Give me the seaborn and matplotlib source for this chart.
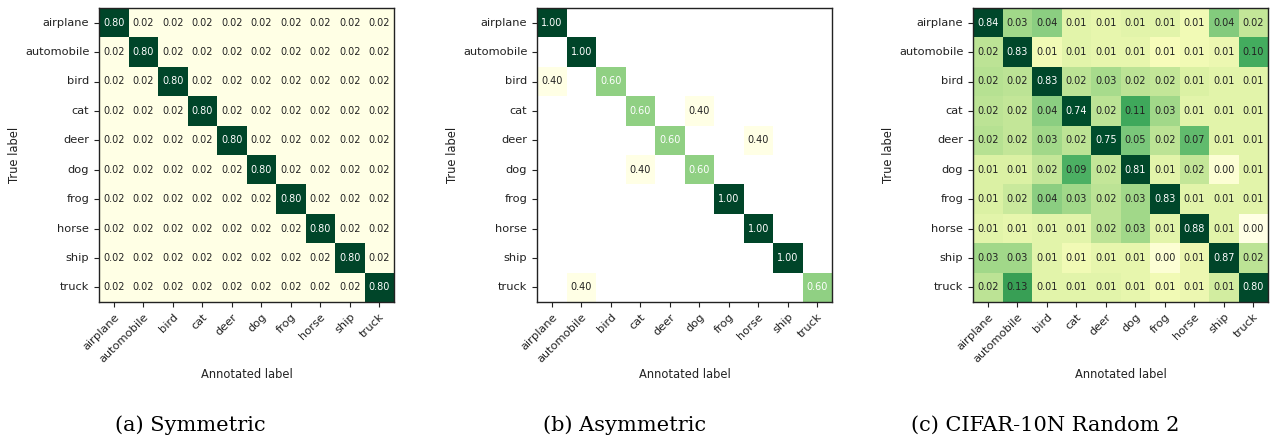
import numpy as np
import pandas as pd
import matplotlib
matplotlib.use("Agg")
import matplotlib.pyplot as plt
from matplotlib.colors import LogNorm
import seaborn as sns

classes = ["airplane", "automobile", "bird", "cat", "deer",
           "dog", "frog", "horse", "ship", "truck"]

# (a) Symmetric noise transition
sym_diag = 0.80
sym_off = 0.02

# (b) Asymmetric noise transition (rows: true label, cols: annotated label)
asym_rows = [
    [1.00, 0, 0, 0, 0, 0, 0, 0, 0, 0],
    [0, 1.00, 0, 0, 0, 0, 0, 0, 0, 0],
    [0.40, 0, 0.60, 0, 0, 0, 0, 0, 0, 0],
    [0, 0, 0, 0.60, 0, 0.40, 0, 0, 0, 0],
    [0, 0, 0, 0, 0.60, 0, 0, 0.40, 0, 0],
    [0, 0, 0, 0.40, 0, 0.60, 0, 0, 0, 0],
    [0, 0, 0, 0, 0, 0, 1.00, 0, 0, 0],
    [0, 0, 0, 0, 0, 0, 0, 1.00, 0, 0],
    [0, 0, 0, 0, 0, 0, 0, 0, 1.00, 0],
    [0, 0.40, 0, 0, 0, 0, 0, 0, 0, 0.60],
]

# (c) CIFAR-10N Random 2
c10n_rows = [
    [0.84, 0.030, 0.040, 0.010, 0.009, 0.010, 0.010, 0.007, 0.044, 0.018],
    [0.020, 0.83, 0.007, 0.010, 0.009, 0.009, 0.006, 0.007, 0.008, 0.100],
    [0.022, 0.020, 0.83, 0.020, 0.027, 0.020, 0.018, 0.012, 0.010, 0.010],
    [0.020, 0.018, 0.040, 0.74, 0.020, 0.110, 0.030, 0.010, 0.010, 0.010],
    [0.022, 0.018, 0.030, 0.020, 0.75, 0.050, 0.020, 0.070, 0.010, 0.010],
    [0.012, 0.012, 0.018, 0.090, 0.018, 0.81, 0.010, 0.018, 0.004, 0.010],
    [0.012, 0.016, 0.040, 0.030, 0.020, 0.030, 0.83, 0.010, 0.010, 0.010],
    [0.010, 0.009, 0.010, 0.010, 0.020, 0.030, 0.010, 0.88, 0.010, 0.003],
    [0.030, 0.030, 0.010, 0.007, 0.009, 0.009, 0.004, 0.008, 0.87, 0.020],
    [0.020, 0.130, 0.010, 0.010, 0.010, 0.009, 0.007, 0.008, 0.014, 0.80],
]

captions = ["(a) Symmetric", "(b) Asymmetric", "(c) CIFAR-10N Random 2"]

sym = np.full((10, 10), sym_off)
np.fill_diagonal(sym, sym_diag)
mats = [sym, np.array(asym_rows, dtype=float), np.array(c10n_rows, dtype=float)]

fig = plt.figure(figsize=(12.7, 4.38), dpi=100)
lefts = [99, 537, 973]
cap_x = [190, 625, 1045]
W, H = 1270, 438
for k, M in enumerate(mats):
    ax = fig.add_axes([lefts[k] / W, (H - 302) / H, 295 / W, 294 / H])
    df = pd.DataFrame(M, index=classes, columns=classes)
    mask = M <= 0
    pos = M[~mask]
    norm = LogNorm(vmin=pos.min(), vmax=pos.max())
    sns.heatmap(df, ax=ax, cmap="YlGn", norm=norm, mask=mask, cbar=False,
                annot=True, fmt=".2f", annot_kws={"fontsize": 7})
    thresh = M.max() / 2.0
    flat = [v for v in M.flatten() if v > 0]
    for t, v in zip(ax.texts, flat):
        t.set_color("white" if v > thresh else "#222222")
    for s in ax.spines.values():
        s.set_visible(True)
        s.set_linewidth(1.0)
        s.set_color("#222222")
    ax.tick_params(axis="both", length=3.5, width=0.8, labelsize=8.2,
                   left=True, bottom=True, colors="#222222")
    ax.set_yticklabels(classes, rotation=0)
    ax.set_xticklabels(classes, rotation=45, ha="right", rotation_mode="anchor")
    ax.set_xlabel("Annotated label", fontsize=8.3, labelpad=3, color="#222222")
    ax.set_ylabel("True label", fontsize=8.3, labelpad=3, color="#222222")
    fig.text(cap_x[k] / W, (H - 425) / H, captions[k], ha="center", va="center",
             fontsize=15, family="DejaVu Serif")

fig.savefig("out.png", dpi=100)
